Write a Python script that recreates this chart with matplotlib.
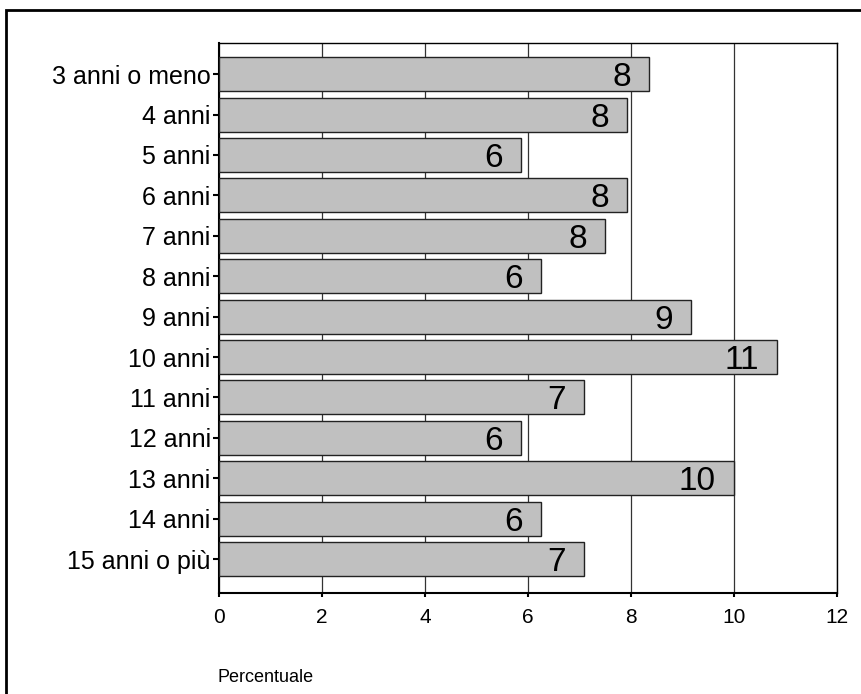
import matplotlib.pyplot as plt
from matplotlib.patches import Rectangle

categories = ["3 anni o meno", "4 anni", "5 anni", "6 anni", "7 anni", "8 anni", "9 anni",
              "10 anni", "11 anni", "12 anni", "13 anni", "14 anni", "15 anni o più"]
values = [8.35, 7.92, 5.86, 7.92, 7.50, 6.25, 9.17, 10.83, 7.09, 5.86, 10.0, 6.25, 7.09]
labels = ["8", "8", "6", "8", "8", "6", "9", "11", "7", "6", "10", "6", "7"]

plt.rcParams['font.family'] = ['Liberation Sans', 'DejaVu Sans']

fig = plt.figure(figsize=(8.61, 6.94), dpi=100)
ax = fig.add_axes([0.2544, 0.1455, 0.7177, 0.7925])

pos = list(range(len(categories)))
bars = ax.barh(pos, values, height=0.84, color="#c0c0c0", edgecolor="#222222", linewidth=1, zorder=3)

for p, v, lab in zip(pos, values, labels):
    ax.annotate(lab, (v, p), xytext=(-13, 0), textcoords="offset points",
                ha="right", va="center_baseline", fontsize=24, zorder=4)

ax.set_yticks(pos)
ax.set_yticklabels(categories, fontsize=18)
ax.set_ylim(len(categories) - 1 + 0.84, -0.77)
ax.set_xlim(0, 12)
ax.set_xticks([0, 2, 4, 6, 8, 10, 12])
ax.tick_params(axis="x", labelsize=15, length=3, width=1.5, pad=8)
ax.tick_params(axis="y", length=4, width=1.5, pad=2)
ax.grid(axis="x", color="#333333", linewidth=0.9, zorder=0)
for s in ax.spines.values():
    s.set_linewidth(1)
ax.spines["left"].set_linewidth(1.5)
ax.spines["bottom"].set_linewidth(1.5)

fig.text(218 / 861, 1 - 677 / 694, "Percentuale", fontsize=13, va="center", ha="left")

fig.patches.append(Rectangle((6 / 861, -0.01), 1.0, 1 - 10 / 694 + 0.01, transform=fig.transFigure,
                             fill=False, edgecolor="black", linewidth=2))

plt.savefig("out.png", dpi=100)
